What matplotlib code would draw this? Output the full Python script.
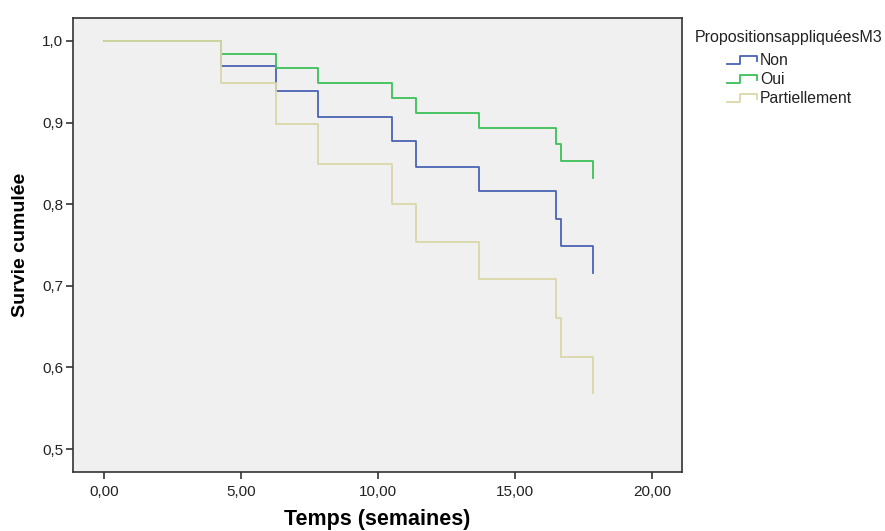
import matplotlib
matplotlib.use("Agg")
import matplotlib.pyplot as plt
from matplotlib.legend_handler import HandlerBase
from matplotlib.lines import Line2D
from matplotlib.ticker import FixedLocator, FuncFormatter

plt.rcParams['font.family'] = ['Liberation Sans', 'DejaVu Sans']

# Data (event times in weeks and Kaplan-Meier survival after each event)
times = [0.0, 4.27, 6.28, 7.81, 10.50, 11.39, 13.70, 16.50, 16.67, 17.85]
surv_non = [1.0, 0.969, 0.938, 0.907, 0.877, 0.846, 0.816, 0.782, 0.749, 0.716]
surv_oui = [1.0, 0.984, 0.967, 0.949, 0.930, 0.912, 0.893, 0.874, 0.853, 0.832]
surv_part = [1.0, 0.949, 0.898, 0.849, 0.800, 0.754, 0.708, 0.660, 0.613, 0.569]
groups = ["Non", "Oui", "Partiellement"]
colors = ["#4a63b4", "#3cc058", "#dcd7a8"]
x_ticks = [0, 5, 10, 15, 20]
y_ticks = [0.5, 0.6, 0.7, 0.8, 0.9, 1.0]

fig = plt.figure(figsize=(8.85, 5.31), dpi=100)
ax = fig.add_axes([0.0825, 0.1111, 0.7706 - 0.0825, 0.9661 - 0.1111])
ax.set_facecolor("#f0f0f0")

for name, s, c in zip(groups, [surv_non, surv_oui, surv_part], colors):
    ax.step(times, s, where="post", color=c, lw=1.3, label=name)

ax.set_xlim(-1.13, 21.09)
ax.set_ylim(0.472, 1.028)
ax.xaxis.set_major_locator(FixedLocator(x_ticks))
ax.yaxis.set_major_locator(FixedLocator(y_ticks))
ax.xaxis.set_major_formatter(FuncFormatter(lambda v, p: f"{v:.2f}".replace(".", ",")))
ax.yaxis.set_major_formatter(FuncFormatter(lambda v, p: f"{v:.1f}".replace(".", ",")))
ax.tick_params(direction="out", length=5, width=1.2, labelsize=11, colors="#333333",
               labelcolor="#222222")
ax.tick_params(axis="x", pad=4)
ax.tick_params(axis="y", pad=2)
for sp in ax.spines.values():
    sp.set_color("#333333")
    sp.set_linewidth(1.2)

ax.set_xlabel("Temps (semaines)", fontsize=15.5, fontweight="bold", va="center")
ax.xaxis.set_label_coords(0.5, -(519 - 472) / 454)
ax.set_ylabel("Survie cumulée", fontsize=14, fontweight="bold", va="center")
ax.yaxis.set_label_coords(-(73 - 20) / 609, 0.5)


class StepHandler(HandlerBase):
    def create_artists(self, legend, orig_handle, xdescent, ydescent, width, height,
                       fontsize, trans):
        w, h = width, height
        x0 = -xdescent
        xs = [x0, x0 + 0.45 * w, x0 + 0.45 * w, x0 + w, x0 + w]
        ys = [0.1 * h, 0.1 * h, 0.9 * h, 0.9 * h, 0.4 * h]
        ln = Line2D(xs, ys, color=orig_handle.get_color(), lw=1.3, transform=trans)
        return [ln]


fig.text(695 / 885, 1 - 37 / 531, "PropositionsappliquéesM3", fontsize=11.5,
         color="#222222", ha="left", va="center")

handles = ax.get_lines()
leg = fig.legend(handles, groups, loc="upper left",
                 bbox_to_anchor=(727 / 885, 1 - 53 / 531), frameon=False,
                 fontsize=11.3, handlelength=1.9, handleheight=0.55, handletextpad=0.2,
                 labelspacing=0.25, borderaxespad=0, borderpad=0,
                 handler_map={Line2D: StepHandler()})
for t in leg.get_texts():
    t.set_color("#222222")

fig.savefig("out.png", dpi=100, facecolor="white")
